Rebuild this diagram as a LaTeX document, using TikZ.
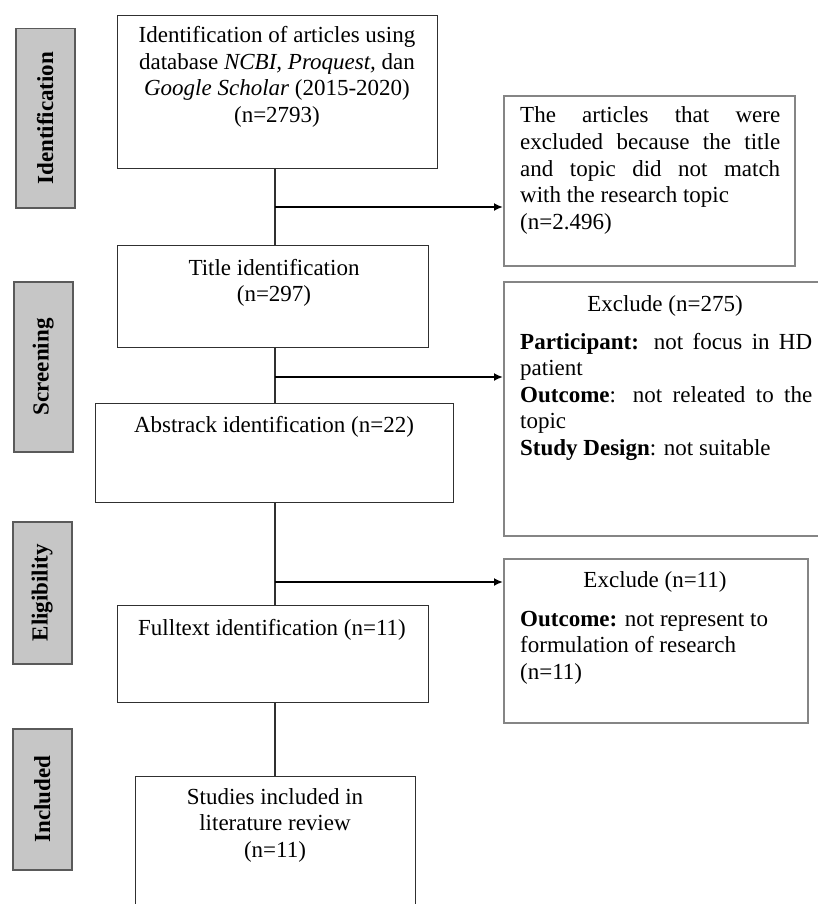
\documentclass[tikz,border=0pt]{standalone}
\usepackage{fontspec}
\setmainfont{Liberation Serif}
\usetikzlibrary{arrows.meta}
\definecolor{lblfill}{HTML}{C6C6C6}
\definecolor{lbldraw}{HTML}{5A5A5A}
\definecolor{mainline}{HTML}{303030}
\definecolor{exdraw}{HTML}{858585}
\newcommand{\jl}[2]{\makebox[#1][s]{#2}}
\begin{document}
\begin{tikzpicture}[x=1pt,y=-1pt,
  every node/.style={font=\fontsize{23}{26.5}\selectfont, inner sep=0pt},
  mainbox/.style={draw=mainline, line width=1.4pt, anchor=north west, minimum width=#1},
  exbox/.style={draw=exdraw, line width=2pt, anchor=north west},
  sidelbl/.style={draw=lbldraw, fill=lblfill, line width=1.5pt, anchor=north west, minimum width=59pt},
  lbltxt/.style={rotate=90, font=\bfseries\fontsize{23}{26.5}\selectfont},
  conn/.style={draw=mainline, line width=1.4pt},
  arr/.style={draw=black, line width=2pt, -{Latex[length=9pt,width=8pt]}},
  btxt/.style={anchor=base, align=center},
  ltxt/.style={anchor=base west, align=left}
]
\useasboundingbox (0,0) rectangle (818,904);
\clip (0,0) rectangle (818,904);

% side labels
\node[sidelbl, minimum height=179pt] (L1) at (15,28) {};
\node[lbltxt] (L1t) at (L1.center) {Identification};
\node[sidelbl, minimum height=170pt] (L2) at (13,281) {};
\node[lbltxt] (L2t) at (L2.center) {Screening};
\node[sidelbl, minimum height=142pt] (L3) at (12,521) {};
\node[lbltxt] (L3t) at (L3.center) {Eligibility};
\node[sidelbl, minimum height=141pt] (L4) at (12,728) {};
\node[lbltxt] (L4t) at (L4.center) {Included};

% main boxes (multi-line texts are placed by the baseline of their last line)
\node[mainbox=320pt, minimum height=153pt] (B1) at (117,15) {};
\node[btxt] (B1t) at (277,122.5) {Identification of articles using\\database \textit{NCBI, Proquest,} dan\\\textit{Google Scholar} (2015-2020)\\(n=2793)};
\node[mainbox=311pt, minimum height=102pt] (B2) at (117,245) {};
\node[btxt] (B2t) at (274,301.5) {Title identification\\(n=297)};
\node[mainbox=358pt, minimum height=99pt] (B3) at (95,403) {};
\node[btxt] (B3t) at (274,432) {Abstrack identification (n=22)};
\node[mainbox=311pt, minimum height=97pt] (B4) at (117,605) {};
\node[btxt] (B4t) at (272,635) {Fulltext identification (n=11)};
\node[mainbox=280pt, minimum height=160pt] (B5) at (135,776) {};
\node[btxt] (B5t) at (275,857) {Studies included in\\literature review\\(n=11)};

% exclusion boxes
\node[exbox, minimum width=291pt, minimum height=170pt] (E1) at (503,95) {};
\node[ltxt] (E1t) at (520,229) {\jl{260pt}{The articles that were}\\\jl{260pt}{excluded because the title}\\\jl{260pt}{and topic did not match}\\with the research topic\\(n=2.496)};
\node[exbox, minimum width=330pt, minimum height=254pt] (E2) at (503,281) {};
\node[btxt] (E2h) at (665,311) {Exclude (n=275)};
\node[ltxt] (E2t) at (520,455) {\jl{292pt}{\textbf{Participant:} not focus in HD}\\patient\\\jl{292pt}{\textbf{Outcome}: not releated to the}\\topic\\\textbf{Study Design}: not suitable};
\node[exbox, minimum width=304pt, minimum height=164pt] (E3) at (503,558) {};
\node[btxt] (E3h) at (655,587) {Exclude (n=11)};
\node[ltxt] (E3t) at (520,679) {\textbf{Outcome:} not represent to\\formulation of research\\(n=11)};

% spine connectors
\coordinate (sx) at (275,0);
\draw[conn] (B1.south -| sx) -- (B2.north -| sx);
\draw[conn] (B2.south -| sx) -- (B3.north -| sx);
\draw[conn] (B3.south -| sx) -- (B4.north -| sx);
\draw[conn] (B4.south -| sx) -- (B5.north -| sx);

% branch arrows
\coordinate (j1) at (275,207);
\coordinate (j2) at (275,377);
\coordinate (j3) at (275,582);
\draw[arr] (j1) -- (E1.west |- j1);
\draw[arr] (j2) -- (E2.west |- j2);
\draw[arr] (j3) -- (E3.west |- j3);
\end{tikzpicture}
\end{document}
